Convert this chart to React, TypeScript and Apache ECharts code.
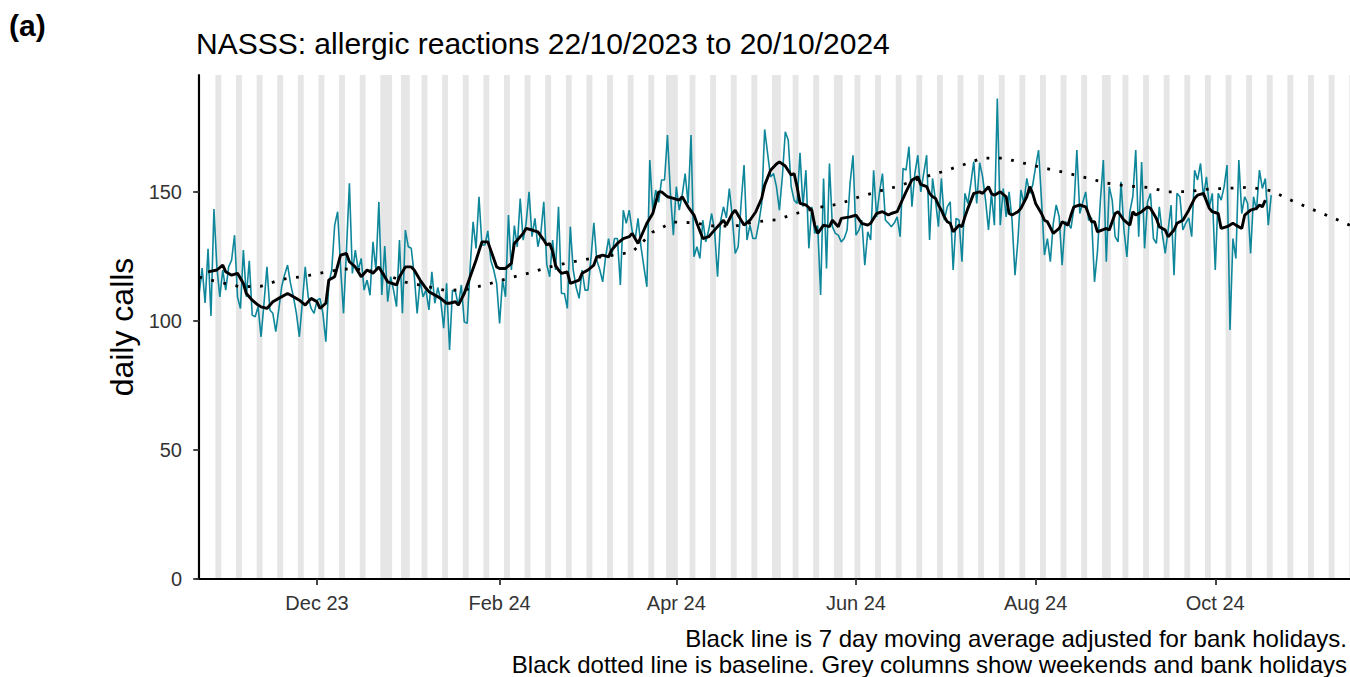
import React, { useEffect, useRef } from "react";
import * as echarts from "echarts";

// ---------- data ----------
const FIRST_DATE = "2023-10-22"; // day 0 of the daily series
const DAY = 86400000;

// daily calls, 22/10/2023 .. 20/10/2024 (one value per day)
const dailyCalls = [
  110.7, 120.5, 107, 128, 102, 143.4, 121, 109.4, 119.8, 112,
  121, 123.6, 133.3, 109.4, 104.9, 127.5, 109.4, 123.4, 102.3, 101.7,
  105.6, 93.9, 106.9, 121, 104.3, 103, 95.9, 104.3, 113.3, 118,
  121.7, 114.6, 109.4, 103, 93.9, 106.9, 121, 109.4, 104.9, 103,
  108, 108.8, 103, 92, 114.6, 119.8, 137.2, 142.4, 121, 103,
  127.5, 153.4, 118.5, 127.5, 119.8, 124.3, 112, 115.9, 110, 130.7,
  119.8, 146.2, 110.1, 129.1, 107.5, 117.2, 112, 105.6, 131.4, 103,
  135.3, 128.8, 128.2, 118, 103, 115.9, 109.4, 112, 104.3, 119.1,
  106.9, 113, 108.1, 97.2, 114.6, 88.8, 112, 111.4, 106, 114,
  99.7, 99.1, 121, 138.5, 128.2, 148.2, 129.5, 129.5, 135, 123.6,
  119.8, 114.6, 99.1, 116, 109.4, 141.1, 119.8, 137, 128.8, 147.5,
  131.4, 138, 150.1, 132.7, 139.8, 128.8, 134, 146.2, 122, 117.2,
  131.4, 119.8, 144.3, 110.7, 110.7, 104.9, 136.6, 119.8, 113, 108.8,
  119.8, 112, 112, 124, 138.1, 123.6, 120, 115.2, 125, 132,
  124.9, 132, 132, 114, 143, 137.9, 143, 135, 131.4, 139.8,
  128.8, 121, 113.3, 162.4, 143, 150.8, 146, 154.7, 154.7, 172.1,
  149.5, 133.3, 152.1, 143, 148.8, 157.2, 145.6, 172.1, 124.9, 128.8,
  124.3, 139.1, 130.7, 135.3, 141.7, 135, 117.2, 138.5, 144.3, 140,
  151.4, 140.4, 126.2, 128.8, 145.6, 160.5, 131.4, 137.2, 132, 132,
  138, 145.6, 174.3, 165, 155.9, 157.2, 152.1, 143, 155.9, 173.4,
  170.2, 152.1, 146.9, 145.6, 165.2, 144.3, 158.5, 128.2, 144.3, 134,
  137, 110.1, 155.3, 120.4, 161.1, 136.6, 134, 133.3, 130.7, 132,
  135.3, 153.4, 164.3, 133.3, 135.3, 139.1, 121.7, 134.6, 131.4, 158.5,
  140.4, 150, 157.2, 139.1, 138, 136.6, 138, 140.4, 132.7, 159.2,
  158.5, 167.6, 144.3, 157.2, 164.3, 150.1, 157.2, 164.3, 131.4, 155.3,
  146.9, 136.6, 155.3, 139.1, 144.3, 146.2, 119.8, 139.8, 139.1, 123,
  149.5, 145.6, 153.4, 161.8, 145.6, 161.4, 155.9, 146.9, 135.3, 149.5,
  137.2, 186.3, 137.2, 151.4, 140.4, 150.1, 139.1, 117.8, 131.4, 150.8,
  145.6, 155.3, 149.5, 152.7, 159.8, 166.3, 146.9, 125.6, 132, 123,
  137.9, 145, 140.4, 121.7, 138.5, 137.9, 135.9, 143.7, 166.3, 141.7,
  146, 150.1, 139, 140, 115.2, 126.9, 146.9, 162.4, 123, 152.1,
  146.9, 132.7, 130.7, 154, 135.3, 124.9, 142.4, 148.2, 166.3, 132.7,
  161.7, 128.2, 146.2, 149.5, 132, 130.1, 144.3, 134, 126.2, 135.3,
  145, 117.8, 149.5, 148.2, 135.3, 138, 140, 132.7, 158.5, 154.7,
  161.1, 148.2, 155.9, 144.3, 149.5, 119.8, 149.5, 146.9, 152, 160.5,
  96.5, 132, 124.3, 162.4, 141.7, 148.2, 145.6, 126.2, 148.2, 143,
  158.5, 151.4, 155.3, 137.2, 148.8,
];

// 7 day moving average (day index from FIRST_DATE, value)
const maDays = [
  3, 6, 8, 9, 11, 13, 15, 16, 18, 20, 21, 23, 25, 27, 30, 32, 34, 36, 38, 40,
  41, 43, 44, 46, 48, 50, 51, 53, 55, 57, 59, 61, 63, 64, 67, 68, 70, 72, 73, 75,
  77, 78, 80, 82, 84, 85, 87, 88, 90, 92, 94, 96, 98, 99, 101, 102, 104, 106, 107, 110,
  111, 113, 115, 117, 118, 119, 120, 121, 122, 123, 125, 126, 129, 130, 132, 134, 135, 137, 139, 140,
  142, 144, 146, 147, 149, 151, 152, 154, 156, 157, 159, 161, 163, 164, 166, 168, 169, 171, 173, 174,
  176, 178, 179, 181, 182, 184, 185, 187, 189, 191, 192, 194, 196, 197, 199, 201, 202, 203, 204, 206,
  208, 209, 210, 212, 214, 215, 217, 218, 221, 223, 225, 227, 228, 230, 232, 234, 235, 237, 239, 240,
  242, 244, 245, 247, 248, 249, 250, 251, 252, 253, 254, 255, 256, 258, 259, 260, 261, 263, 265, 266,
  268, 269, 270, 272, 274, 275, 276, 278, 279, 281, 282, 283, 284, 286, 287, 288, 290, 292, 293, 295,
  296, 297, 299, 301, 303, 304, 305, 308, 309, 311, 312, 314, 316, 317, 318, 320, 322, 323, 325, 326,
  328, 329, 331, 332, 334, 336, 338, 339, 341, 343, 344, 346, 347, 349, 351, 352, 354, 355, 357, 359,
  360, 361, 362,
];
const maValues = [
  119.1, 119.8, 121.7, 119.1, 117.8, 118.5, 114.6, 110.7, 108.1, 106.2, 105.5, 104.9, 107.5, 108.8, 110.7, 109.4, 108.1, 106.2, 108.8, 107.5,
  104.9, 106.9, 115.9, 117.2, 125.6, 126.2, 123, 121, 117.2, 119.8, 118.5, 121, 117.2, 115.2, 114, 117.2, 121, 121, 119.8, 115.9,
  112.7, 111.4, 110.1, 108.8, 106.9, 106.9, 107.5, 106.2, 110.7, 117.2, 123.6, 130.7, 130.7, 127.5, 121, 120.4, 120.4, 122.4, 130.1, 134,
  135.9, 135.3, 134.6, 131.4, 129.5, 130.1, 127, 121.5, 119.8, 118.5, 119.1, 114.6, 115.9, 118.5, 119.8, 121.7, 124.9, 125.6, 124.9, 127.5,
  130.1, 132, 132.7, 134, 130.1, 135.3, 137.9, 141.7, 150.1, 150.1, 148.2, 147.6, 146.9, 148.2, 144.3, 141.1, 137.9, 132, 132.7, 134,
  136.6, 139.1, 137.2, 141.7, 143, 139.1, 137.2, 139.1, 142.4, 147.6, 152.7, 158.5, 160.9, 161.7, 160.1, 156.6, 157.2, 152.1, 145.6, 145,
  143, 137.2, 134, 137.2, 136.6, 139.1, 136.6, 139.8, 140.4, 141.1, 137.9, 137.2, 137.9, 141.7, 142.4, 141.1, 141.7, 142.4, 147.6, 150.1,
  154.7, 155.9, 153, 152.1, 149.5, 148.2, 147.6, 145, 143, 140.4, 138.5, 137.9, 134.6, 137.2, 136.6, 140.4, 143.7, 149.5, 150.1, 149.5,
  152.1, 149.5, 148.8, 150.1, 148.2, 141.7, 141.1, 142.4, 143.7, 148.2, 152.1, 149.5, 145.6, 141.7, 139.1, 138.5, 134, 135.9, 138.5, 137.2,
  141.1, 144.3, 145, 144.3, 138.5, 138.5, 134.6, 135.9, 135.3, 141.7, 142.4, 139.1, 137.2, 142.4, 141.1, 142.4, 144.3, 143.7, 139.8, 136.6,
  135.3, 132.7, 135.3, 137.9, 139.1, 143, 147.6, 148.8, 149.5, 143.7, 142.4, 141.7, 135.9, 136.6, 137.9, 137.2, 135.9, 141.1, 143, 143.7,
  145, 144.3, 146.9,
];

// baseline, one value per week starting at FIRST_DATE
const BASELINE_STEP_DAYS = 7;
const baselineValues = [
  117, 115, 113.3, 113.5, 116.2, 117.2, 118.8, 120.2, 120, 118.2,
  115.1, 113.5, 111.8, 112.3, 114.3, 116.6, 118.6, 121, 122.8, 124.3,
  125.5, 126.7, 134.5, 138.4, 138.1, 136.8, 136.8, 138.5, 139.3, 141.8,
  144, 145.3, 148.1, 150.4, 152.5, 155.4, 157.8, 160.4, 163.2, 163.2,
  161.2, 159.3, 157.6, 155.6, 153.5, 152.4, 151.8, 150.1, 150.2, 151.2,
  151.5, 151.9, 150.5, 146.7, 143.3, 140, 136.5,
];

const bankHolidays = [
  "2023-12-25", "2023-12-26", "2024-01-01", "2024-03-29",
  "2024-04-01", "2024-05-06", "2024-05-27", "2024-08-26",
];

const xTickDates = ["2023-12-01", "2024-02-01", "2024-04-01", "2024-06-01", "2024-08-01", "2024-10-01"];
const xTickLabels = ["Dec 23", "Feb 24", "Apr 24", "Jun 24", "Aug 24", "Oct 24"];
const yTicks = [0, 50, 100, 150];

const X_MIN = "2023-10-21T06:00:00Z";
const X_MAX = "2024-11-15T18:00:00Z";
const Y_MAX = 195.4;

const TITLE = "NASSS: allergic reactions 22/10/2023 to 20/10/2024";
const CAPTION = [
  "Black line is 7 day moving average adjusted for bank holidays.",
  "Black dotted line is baseline. Grey columns show weekends and bank holidays",
];

// ---------- helpers ----------
const utc = (d: string) => Date.parse(d.length === 10 ? d + "T00:00:00Z" : d);
const t0 = utc(FIRST_DATE);
// x position on the axis = days since FIRST_DATE
const dayOf = (d: string) => (utc(d) - t0) / DAY;

function greyRuns(minDay: number, maxDay: number): [number, number][] {
  const hol = new Set(bankHolidays.map(dayOf));
  const runs: [number, number][] = [];
  let start: number | null = null;
  let last = 0;
  for (let d = Math.floor(minDay) - 1; d <= Math.ceil(maxDay) + 1; d++) {
    const wd = new Date(t0 + d * DAY).getUTCDay();
    const grey = wd === 0 || wd === 6 || hol.has(d);
    if (grey) {
      if (start === null) start = d;
      last = d;
    } else if (start !== null) {
      runs.push([start - 0.5, last + 0.5]);
      start = null;
    }
  }
  if (start !== null) runs.push([start - 0.5, last + 0.5]);
  return runs
    .map(([a, b]) => [Math.max(a, minDay), Math.min(b, maxDay)] as [number, number])
    .filter(([a, b]) => b > a);
}

const FONT = "'Liberation Sans', Arial, Helvetica, sans-serif";

export default function App() {
  const ref = useRef<HTMLDivElement>(null);

  useEffect(() => {
    if (!ref.current) return;
    const chart = echarts.init(ref.current, undefined, { renderer: "svg" });
    const xMin = dayOf(X_MIN);
    const xMax = dayOf(X_MAX);
    const xTickDays = xTickDates.map(dayOf);

    const daily = dailyCalls.map((v, i) => [i, v]);
    const ma = maDays.map((d, i) => [d, maValues[i]]);
    const baseline = baselineValues.map((v, k) => [k * BASELINE_STEP_DAYS, v]);
    const runs = greyRuns(xMin, xMax);

    chart.setOption({
      animation: false,
      textStyle: { fontFamily: FONT },
      title: {
        text: TITLE,
        left: 196,
        top: 28,
        padding: 0,
        textStyle: { fontSize: 30, fontWeight: "normal", color: "#000", fontFamily: FONT },
      },
      graphic: [
        {
          type: "text",
          left: 9,
          top: 10,
          style: { text: "(a)", fontSize: 30, fontWeight: "bold", fill: "#000", fontFamily: FONT },
        },
        {
          type: "text",
          x: 1347,
          y: 625.5,
          style: {
            text: CAPTION.join("\n"),
            align: "right",
            textAlign: "right",
            verticalAlign: "top",
            textVerticalAlign: "top",
            fontSize: 24,
            lineHeight: 26,
            fill: "#000",
            fontFamily: FONT,
          },
        },
      ],
      grid: { left: 197, right: 0, top: 75, bottom: 98, containLabel: false },
      xAxis: {
        type: "value",
        min: xMin,
        max: xMax,
        z: 10,
        axisLine: { show: true, lineStyle: { color: "#000", width: 2 } },
        axisTick: { show: true, customValues: xTickDays, length: 6, lineStyle: { color: "#333", width: 1.8 } },
        axisLabel: {
          customValues: xTickDays,
          margin: 14,
          fontSize: 20,
          color: "#333",
          fontFamily: FONT,
          formatter: (value: number) => {
            const i = xTickDays.findIndex((t) => Math.abs(t - value) < 0.5);
            return i >= 0 ? xTickLabels[i] : "";
          },
        },
        splitLine: { show: false },
        minorTick: { show: false },
      },
      yAxis: {
        type: "value",
        min: 0,
        max: Y_MAX,
        z: 10,
        name: "daily calls",
        nameLocation: "middle",
        nameGap: 56,
        nameTextStyle: { fontSize: 32, color: "#000", fontFamily: FONT },
        axisLine: { show: true, lineStyle: { color: "#000", width: 2 } },
        axisTick: { show: true, customValues: yTicks, length: 6, lineStyle: { color: "#333", width: 1.8 } },
        axisLabel: { customValues: yTicks, margin: 15, fontSize: 20, color: "#333", fontFamily: FONT },
        splitLine: { show: false },
      },
      series: [
        {
          type: "line",
          name: "daily",
          data: daily,
          showSymbol: false,
          z: 3,
          lineStyle: { color: "#0f879b", width: 1.6 },
          markArea: {
            silent: true,
            itemStyle: { color: "#e6e6e6", opacity: 1 },
            data: runs.map(([a, b]) => [{ xAxis: a }, { xAxis: b }]),
          },
        },
        {
          type: "line",
          name: "baseline",
          data: baseline,
          showSymbol: false,
          z: 4,
          lineStyle: { color: "#000", width: 2.8, type: [2.8, 9.6], cap: "butt" },
        },
        {
          type: "line",
          name: "ma",
          data: ma,
          showSymbol: false,
          z: 5,
          lineStyle: { color: "#000", width: 2.9 },
        },
      ],
    });

    return () => chart.dispose();
  }, []);

  return (
    <div
      ref={ref}
      style={{ position: "absolute", left: 0, top: 0, width: 1350, height: 677, background: "#fff" }}
    />
  );
}
